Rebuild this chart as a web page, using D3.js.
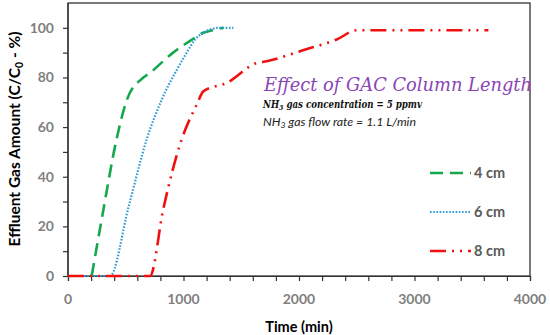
<!DOCTYPE html>
<html>
<head>
<meta charset="utf-8">
<script src="https://cdn.jsdelivr.net/npm/d3@7"></script>
<style>
  body { margin: 0; background: #fff; }
</style>
</head>
<body>
<div id="chart"></div>
<script>
// valeurs
var time4 = [205, 300, 420, 510, 640, 700, 910, 1100, 1170, 1250, 1345];
var eff4 = [0, 25, 55, 71, 79.5, 81.5, 90, 96, 98, 99, 100];
var time6 = [0, 364, 525, 681, 811, 941, 1028, 1100, 1172, 1229, 1300, 1431];
var eff6 = [0, 0, 28, 55, 71, 83, 90, 95.3, 98, 99.3, 100, 100];
var time8 = [0, 710, 825, 984, 1114, 1172, 1374, 1634, 1720, 2009, 2326, 2500, 3640];
var eff8 = [0, 0, 27, 55, 69, 74.4, 77.8, 85.8, 86.5, 90.6, 95.3, 99, 99];
var seriesNames = ["4 cm", "6 cm", "8 cm"];
var xTicks = [0, 1000, 2000, 3000, 4000];
var yTicks = [0, 20, 40, 60, 80, 100];

var width = 550, height = 335;
var mLeft = 68, mRight = 530, mTop = 3, mBottom = 276;
var sans = "Lato, 'Open Sans', sans-serif";

var svg = d3.select("#chart").append("svg")
    .attr("width", width)
    .attr("height", height)
    .style("font-family", sans);

var x = d3.scaleLinear().domain([0, 4000]).range([mLeft, mRight]);
var y = d3.scaleLinear().domain([0, 110]).range([mBottom, mTop]);

var series = [
    { name: seriesNames[0], t: time4, v: eff4, color: "#13a84b", dash: "13,7", w: 2.6 },
    { name: seriesNames[1], t: time6, v: eff6, color: "#2f9bd5", dash: "1.6,1.6", w: 2.2 },
    { name: seriesNames[2], t: time8, v: eff8, color: "#f01010", dash: "16,6,2,6,2,6", w: 2.6 }
];

// cadre
svg.append("rect")
    .attr("x", mLeft).attr("y", mTop)
    .attr("width", mRight - mLeft).attr("height", mBottom - mTop)
    .attr("fill", "none").attr("stroke", "#222").attr("stroke-width", 1.2);

// axes
var xAxis = d3.axisBottom(x).tickValues(d3.range(0, 4001, 200)).tickSize(5).tickFormat("");
svg.append("g").attr("transform", "translate(0," + mBottom + ")").call(xAxis)
    .call(g => g.selectAll("line, path").attr("stroke", "#333").attr("stroke-width", 1.2));

var yAxis = d3.axisLeft(y).tickValues(d3.range(0, 101, 10)).tickSize(5).tickFormat("");
svg.append("g").attr("transform", "translate(" + mLeft + ",0)").call(yAxis)
    .call(g => g.selectAll("line, path").attr("stroke", "#333").attr("stroke-width", 1.2))
    .call(g => g.select("path").attr("d", "M0," + mBottom + "V" + mTop));

svg.selectAll(".xlab").data(xTicks).enter().append("text")
    .attr("x", d => x(d)).attr("y", 304)
    .attr("text-anchor", "middle")
    .attr("font-size", 14).attr("font-weight", "bold").attr("fill", "#7f7f7f")
    .text(d => d);

svg.selectAll(".ylab").data(yTicks).enter().append("text")
    .attr("x", 54).attr("y", d => y(d) + 5)
    .attr("text-anchor", "end")
    .attr("font-size", 14).attr("font-weight", "bold").attr("fill", "#7f7f7f")
    .text(d => d);

svg.append("text")
    .attr("x", (mLeft + mRight) / 2).attr("y", 332)
    .attr("text-anchor", "middle")
    .attr("font-size", 14.5).attr("font-weight", "bold").attr("fill", "#000")
    .text("Time (min)");

var yt = svg.append("text")
    .attr("transform", "translate(20,139) rotate(-90)")
    .attr("text-anchor", "middle")
    .attr("font-size", 15.5).attr("font-weight", "bold").attr("fill", "#000");
yt.append("tspan").text("Effluent Gas Amount (C/C");
yt.append("tspan").attr("font-size", 10.5).attr("dy", 3).text("0");
yt.append("tspan").attr("dy", -3).text(" - %)");

// courbes
var line = d3.line()
    .x(d => x(d[0]))
    .y(d => y(d[1]))
    .curve(d3.curveMonotoneX);

series.forEach(function(s) {
    var pts = s.t.map((t, i) => [t, s.v[i]]);
    svg.append("path")
        .datum(pts)
        .attr("d", line)
        .attr("fill", "none")
        .attr("stroke", s.color)
        .attr("stroke-width", s.w)
        .attr("stroke-dasharray", s.dash);
});

// titre et annotations
svg.append("text")
    .attr("x", 264).attr("y", 91)
    .style("font-family", "'DejaVu Serif', serif")
    .attr("font-style", "italic")
    .attr("font-size", 19).attr("fill", "#8a45b5")
    .attr("textLength", 268).attr("lengthAdjust", "spacingAndGlyphs")
    .text("Effect of GAC Column Length");

var sub1 = svg.append("text")
    .attr("x", 263).attr("y", 108)
    .style("font-family", "'DejaVu Serif', serif")
    .attr("font-style", "italic").attr("font-weight", "bold")
    .attr("font-size", 11).attr("fill", "#111")
    .attr("textLength", 159).attr("lengthAdjust", "spacingAndGlyphs");
sub1.append("tspan").text("NH");
sub1.append("tspan").attr("font-size", 8).attr("dy", 2).text("3");
sub1.append("tspan").attr("dy", -2).text(" gas concentration = 5 ppmv");

var sub2 = svg.append("text")
    .attr("x", 263).attr("y", 126)
    .attr("font-style", "italic")
    .attr("font-size", 11.5).attr("fill", "#222")
    .attr("textLength", 153).attr("lengthAdjust", "spacingAndGlyphs");
sub2.append("tspan").text("NH");
sub2.append("tspan").attr("font-size", 8).attr("dy", 2).text("3");
sub2.append("tspan").attr("dy", -2).text(" gas flow rate = 1.1 L/min");

// légende
var legY = [173, 212, 251];
series.forEach(function(s, i) {
    svg.append("line")
        .attr("x1", 430).attr("x2", 471)
        .attr("y1", legY[i]).attr("y2", legY[i])
        .attr("stroke", s.color)
        .attr("stroke-width", s.w)
        .attr("stroke-dasharray", s.dash);
    svg.append("text")
        .attr("x", 474).attr("y", legY[i] + 5)
        .attr("font-size", 14.5).attr("font-weight", "bold").attr("fill", "#595959")
        .text(s.name);
});
</script>
</body>
</html>
